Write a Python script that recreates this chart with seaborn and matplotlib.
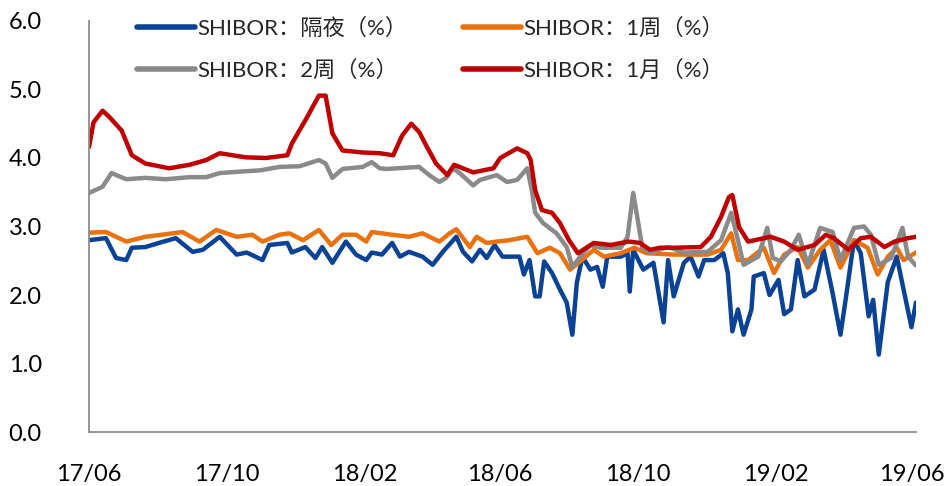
import pandas as pd
import seaborn as sns
import matplotlib.pyplot as plt
import matplotlib.dates as mdates
from matplotlib.lines import Line2D

# SHIBOR rates (%)
on_dates = ["2017-06-01", "2017-06-16", "2017-06-25", "2017-07-04", "2017-07-09", "2017-07-21",
            "2017-08-02", "2017-08-17", "2017-09-01", "2017-09-10", "2017-09-25", "2017-10-10",
            "2017-10-19", "2017-11-02", "2017-11-08", "2017-11-24", "2017-11-28", "2017-12-10",
            "2017-12-19", "2017-12-25", "2018-01-03", "2018-01-15", "2018-01-24", "2018-02-02",
            "2018-02-07", "2018-02-16", "2018-02-25", "2018-03-04", "2018-03-12", "2018-03-24",
            "2018-04-02", "2018-04-11", "2018-04-23", "2018-04-29", "2018-05-07", "2018-05-14",
            "2018-05-20", "2018-05-27", "2018-06-03", "2018-06-18", "2018-06-22", "2018-06-27",
            "2018-07-02", "2018-07-06", "2018-07-10", "2018-07-17", "2018-07-24", "2018-07-30",
            "2018-08-04", "2018-08-08", "2018-08-13", "2018-08-20", "2018-08-26", "2018-08-31",
            "2018-09-04", "2018-09-16", "2018-09-22", "2018-09-24", "2018-09-27", "2018-10-06",
            "2018-10-15", "2018-10-24", "2018-10-28", "2018-11-02", "2018-11-11", "2018-11-17",
            "2018-11-24", "2018-11-29", "2018-12-08", "2018-12-16", "2018-12-20", "2018-12-24",
            "2018-12-29", "2019-01-03", "2019-01-10", "2019-01-12", "2019-01-21", "2019-01-26",
            "2019-02-03", "2019-02-08", "2019-02-14", "2019-02-20", "2019-02-26", "2019-03-07",
            "2019-03-15", "2019-03-23", "2019-03-30", "2019-04-04", "2019-04-11", "2019-04-17",
            "2019-04-24", "2019-04-28", "2019-05-03", "2019-05-11", "2019-05-19", "2019-05-25",
            "2019-06-01", "2019-06-05"]
on_vals = [2.80, 2.83, 2.54, 2.51, 2.69, 2.70,
           2.76, 2.83, 2.63, 2.66, 2.85, 2.59,
           2.62, 2.51, 2.73, 2.76, 2.62, 2.70,
           2.54, 2.70, 2.47, 2.78, 2.59, 2.51,
           2.62, 2.59, 2.76, 2.56, 2.63, 2.56,
           2.44, 2.63, 2.85, 2.63, 2.49, 2.66,
           2.54, 2.73, 2.56, 2.56, 2.30, 2.51,
           1.98, 1.98, 2.49, 2.32, 2.08, 1.89,
           1.42, 2.18, 2.56, 2.37, 2.41, 2.12,
           2.56, 2.56, 2.61, 2.05, 2.66, 2.37,
           2.47, 1.60, 2.51, 1.98, 2.47, 2.56,
           2.27, 2.51, 2.51, 2.61, 2.32, 1.47,
           1.79, 1.42, 1.79, 2.27, 2.32, 2.00,
           2.22, 1.72, 1.79, 2.51, 1.98, 2.08,
           2.66, 2.03, 1.42, 1.98, 2.80, 2.61,
           1.69, 1.93, 1.13, 2.19, 2.56, 2.08,
           1.53, 1.89]

w1_dates = ["2017-06-01", "2017-06-16", "2017-07-04", "2017-07-21", "2017-08-05", "2017-08-23",
            "2017-09-07", "2017-09-22", "2017-10-10", "2017-10-24", "2017-11-02", "2017-11-17",
            "2017-11-26", "2017-12-08", "2017-12-22", "2018-01-02", "2018-01-12", "2018-01-24",
            "2018-02-02", "2018-02-07", "2018-02-25", "2018-03-12", "2018-03-24", "2018-04-08",
            "2018-04-17", "2018-04-23", "2018-05-05", "2018-05-11", "2018-05-20", "2018-05-29",
            "2018-06-09", "2018-06-25", "2018-07-04", "2018-07-15", "2018-07-24", "2018-08-02",
            "2018-08-11", "2018-08-23", "2018-09-01", "2018-09-16", "2018-09-28", "2018-10-09",
            "2018-11-02", "2018-12-02", "2018-12-14", "2018-12-23", "2018-12-29", "2019-01-07",
            "2019-01-21", "2019-01-30", "2019-02-08", "2019-02-20", "2019-03-01", "2019-03-12",
            "2019-03-21", "2019-03-30", "2019-04-11", "2019-04-23", "2019-05-02", "2019-05-11",
            "2019-05-19", "2019-05-25", "2019-06-05"]
w1_vals = [2.91, 2.92, 2.78, 2.85, 2.88, 2.92,
           2.78, 2.95, 2.85, 2.88, 2.78, 2.88,
           2.90, 2.80, 2.95, 2.73, 2.88, 2.88,
           2.78, 2.92, 2.88, 2.85, 2.90, 2.78,
           2.90, 2.96, 2.70, 2.85, 2.76, 2.78,
           2.80, 2.85, 2.61, 2.69, 2.61, 2.37,
           2.49, 2.66, 2.56, 2.61, 2.69, 2.61,
           2.59, 2.59, 2.66, 2.90, 2.51, 2.51,
           2.69, 2.32, 2.59, 2.70, 2.40, 2.66,
           2.80, 2.40, 2.80, 2.69, 2.30, 2.56,
           2.69, 2.51, 2.62]

w2_dates = ["2017-06-01", "2017-06-13", "2017-06-21", "2017-07-04", "2017-07-21", "2017-08-08",
            "2017-08-29", "2017-09-13", "2017-09-25", "2017-10-12", "2017-10-31", "2017-11-17",
            "2017-12-05", "2017-12-22", "2017-12-28", "2018-01-03", "2018-01-12", "2018-01-30",
            "2018-02-07", "2018-02-14", "2018-02-20", "2018-03-21", "2018-03-30", "2018-04-08",
            "2018-04-14", "2018-04-20", "2018-04-26", "2018-05-08", "2018-05-14", "2018-05-29",
            "2018-06-07", "2018-06-16", "2018-06-25", "2018-06-29", "2018-07-02", "2018-07-09",
            "2018-07-21", "2018-07-30", "2018-08-04", "2018-08-11", "2018-08-20", "2018-08-29",
            "2018-09-16", "2018-09-22", "2018-09-27", "2018-10-01", "2018-10-05", "2018-10-12",
            "2018-10-28", "2018-11-11", "2018-12-02", "2018-12-14", "2018-12-23", "2018-12-29",
            "2019-01-03", "2019-01-16", "2019-01-24", "2019-01-29", "2019-02-05", "2019-02-14",
            "2019-02-21", "2019-03-01", "2019-03-12", "2019-03-23", "2019-03-30", "2019-04-11",
            "2019-04-20", "2019-04-26", "2019-05-03", "2019-05-14", "2019-05-24", "2019-05-29",
            "2019-06-05"]
w2_vals = [3.49, 3.58, 3.78, 3.69, 3.71, 3.69,
           3.72, 3.72, 3.78, 3.80, 3.82, 3.87,
           3.88, 3.97, 3.92, 3.71, 3.84, 3.87,
           3.94, 3.85, 3.84, 3.87, 3.75, 3.65,
           3.71, 3.85, 3.78, 3.60, 3.68, 3.75,
           3.65, 3.68, 3.85, 3.53, 3.20, 3.05,
           2.90, 2.70, 2.41, 2.56, 2.73, 2.69,
           2.69, 2.85, 3.49, 3.10, 2.70, 2.62,
           2.70, 2.62, 2.63, 2.80, 3.20, 2.80,
           2.44, 2.56, 2.98, 2.54, 2.49, 2.66,
           2.88, 2.44, 2.98, 2.92, 2.51, 2.98,
           3.00, 2.88, 2.44, 2.54, 2.98, 2.56,
           2.43]

m1_dates = ["2017-06-01", "2017-06-05", "2017-06-13", "2017-06-19", "2017-06-30", "2017-07-09",
            "2017-07-21", "2017-08-11", "2017-08-29", "2017-09-13", "2017-09-25", "2017-10-18",
            "2017-11-05", "2017-11-24", "2017-11-28", "2017-12-10", "2017-12-22", "2017-12-28",
            "2018-01-03", "2018-01-12", "2018-01-30", "2018-02-14", "2018-02-26", "2018-03-06",
            "2018-03-14", "2018-03-21", "2018-03-28", "2018-04-05", "2018-04-15", "2018-04-21",
            "2018-05-08", "2018-05-26", "2018-06-01", "2018-06-16", "2018-06-25", "2018-06-28",
            "2018-07-02", "2018-07-08", "2018-07-17", "2018-07-24", "2018-08-01", "2018-08-09",
            "2018-08-23", "2018-09-07", "2018-09-23", "2018-10-03", "2018-10-12", "2018-10-21",
            "2018-11-02", "2018-11-26", "2018-12-05", "2018-12-14", "2018-12-21", "2018-12-24",
            "2018-12-30", "2019-01-07", "2019-01-27", "2019-02-08", "2019-02-20", "2019-03-07",
            "2019-03-17", "2019-03-24", "2019-04-06", "2019-04-17", "2019-04-26", "2019-05-08",
            "2019-05-17", "2019-05-29", "2019-06-05"]
m1_vals = [4.16, 4.52, 4.69, 4.60, 4.40, 4.04,
           3.92, 3.85, 3.90, 3.97, 4.07, 4.01,
           4.00, 4.04, 4.21, 4.55, 4.91, 4.91,
           4.36, 4.11, 4.08, 4.07, 4.04, 4.33,
           4.50, 4.38, 4.16, 3.92, 3.75, 3.90,
           3.79, 3.85, 4.00, 4.14, 4.07, 3.97,
           3.53, 3.24, 3.20, 3.05, 2.80, 2.61,
           2.76, 2.73, 2.78, 2.76, 2.66, 2.69,
           2.69, 2.70, 2.85, 3.14, 3.43, 3.46,
           2.99, 2.78, 2.85, 2.78, 2.66, 2.73,
           2.88, 2.83, 2.66, 2.83, 2.85, 2.70,
           2.78, 2.83, 2.85]

labels = ["SHIBOR：隔夜（%）", "SHIBOR：1周（%）", "SHIBOR：2周（%）", "SHIBOR：1月（%）"]
colors = ["#0A4296", "#E9720F", "#8A8A8A", "#C00000"]

frames = []
for name, d, v in zip(labels, [on_dates, w1_dates, w2_dates, m1_dates],
                      [on_vals, w1_vals, w2_vals, m1_vals]):
    frames.append(pd.DataFrame({"date": pd.to_datetime(d), "rate": v, "series": name}))
df = pd.concat(frames, ignore_index=True)

sns.set_theme(style="white")
plt.rcParams["font.family"] = ["Lato", "Noto Sans CJK SC", "DejaVu Sans"]

fig = plt.figure(figsize=(9.48, 4.86), dpi=100)
ax = fig.add_axes([0.0939, 0.1111, 0.8723, 0.8457])

sns.lineplot(data=df, x="date", y="rate", hue="series", hue_order=labels,
             palette=dict(zip(labels, colors)), linewidth=3.2, estimator=None,
             sort=False, legend=False, ax=ax)

ax.set_xlim(pd.Timestamp("2017-06-01"), pd.Timestamp("2019-06-05"))
ax.set_ylim(0, 6)
ax.set_yticks([0, 1, 2, 3, 4, 5, 6])
ax.set_yticklabels([f"{t:.1f}" for t in range(7)])
ax.set_xticks(pd.date_range("2017-06-01", "2019-06-01", freq="4MS"))
ax.xaxis.set_major_formatter(mdates.DateFormatter("%y/%m"))
ax.set_xlabel("")
ax.set_ylabel("")
ax.tick_params(axis="both", length=0, labelsize=17, colors="black")
ax.tick_params(axis="y", pad=34)
ax.tick_params(axis="x", pad=23)
for side in ["top", "right"]:
    ax.spines[side].set_visible(False)
for side in ["left", "bottom"]:
    ax.spines[side].set_color("#8C8C8C")
    ax.spines[side].set_linewidth(1.3)

# two legend columns, placed separately like the original
handles = [Line2D([], [], color=c, lw=4, solid_capstyle="round") for c in colors]
leg_kw = dict(loc="upper left", frameon=False, fontsize=16, borderaxespad=0,
              handlelength=2.6, handletextpad=0.1, labelspacing=0.95)
fig.legend([handles[0], handles[2]], [labels[0], labels[2]],
           bbox_to_anchor=(0.135, 0.982), **leg_kw)
fig.legend([handles[1], handles[3]], [labels[1], labels[3]],
           bbox_to_anchor=(0.479, 0.982), **leg_kw)

fig.savefig("out.png", dpi=100)
